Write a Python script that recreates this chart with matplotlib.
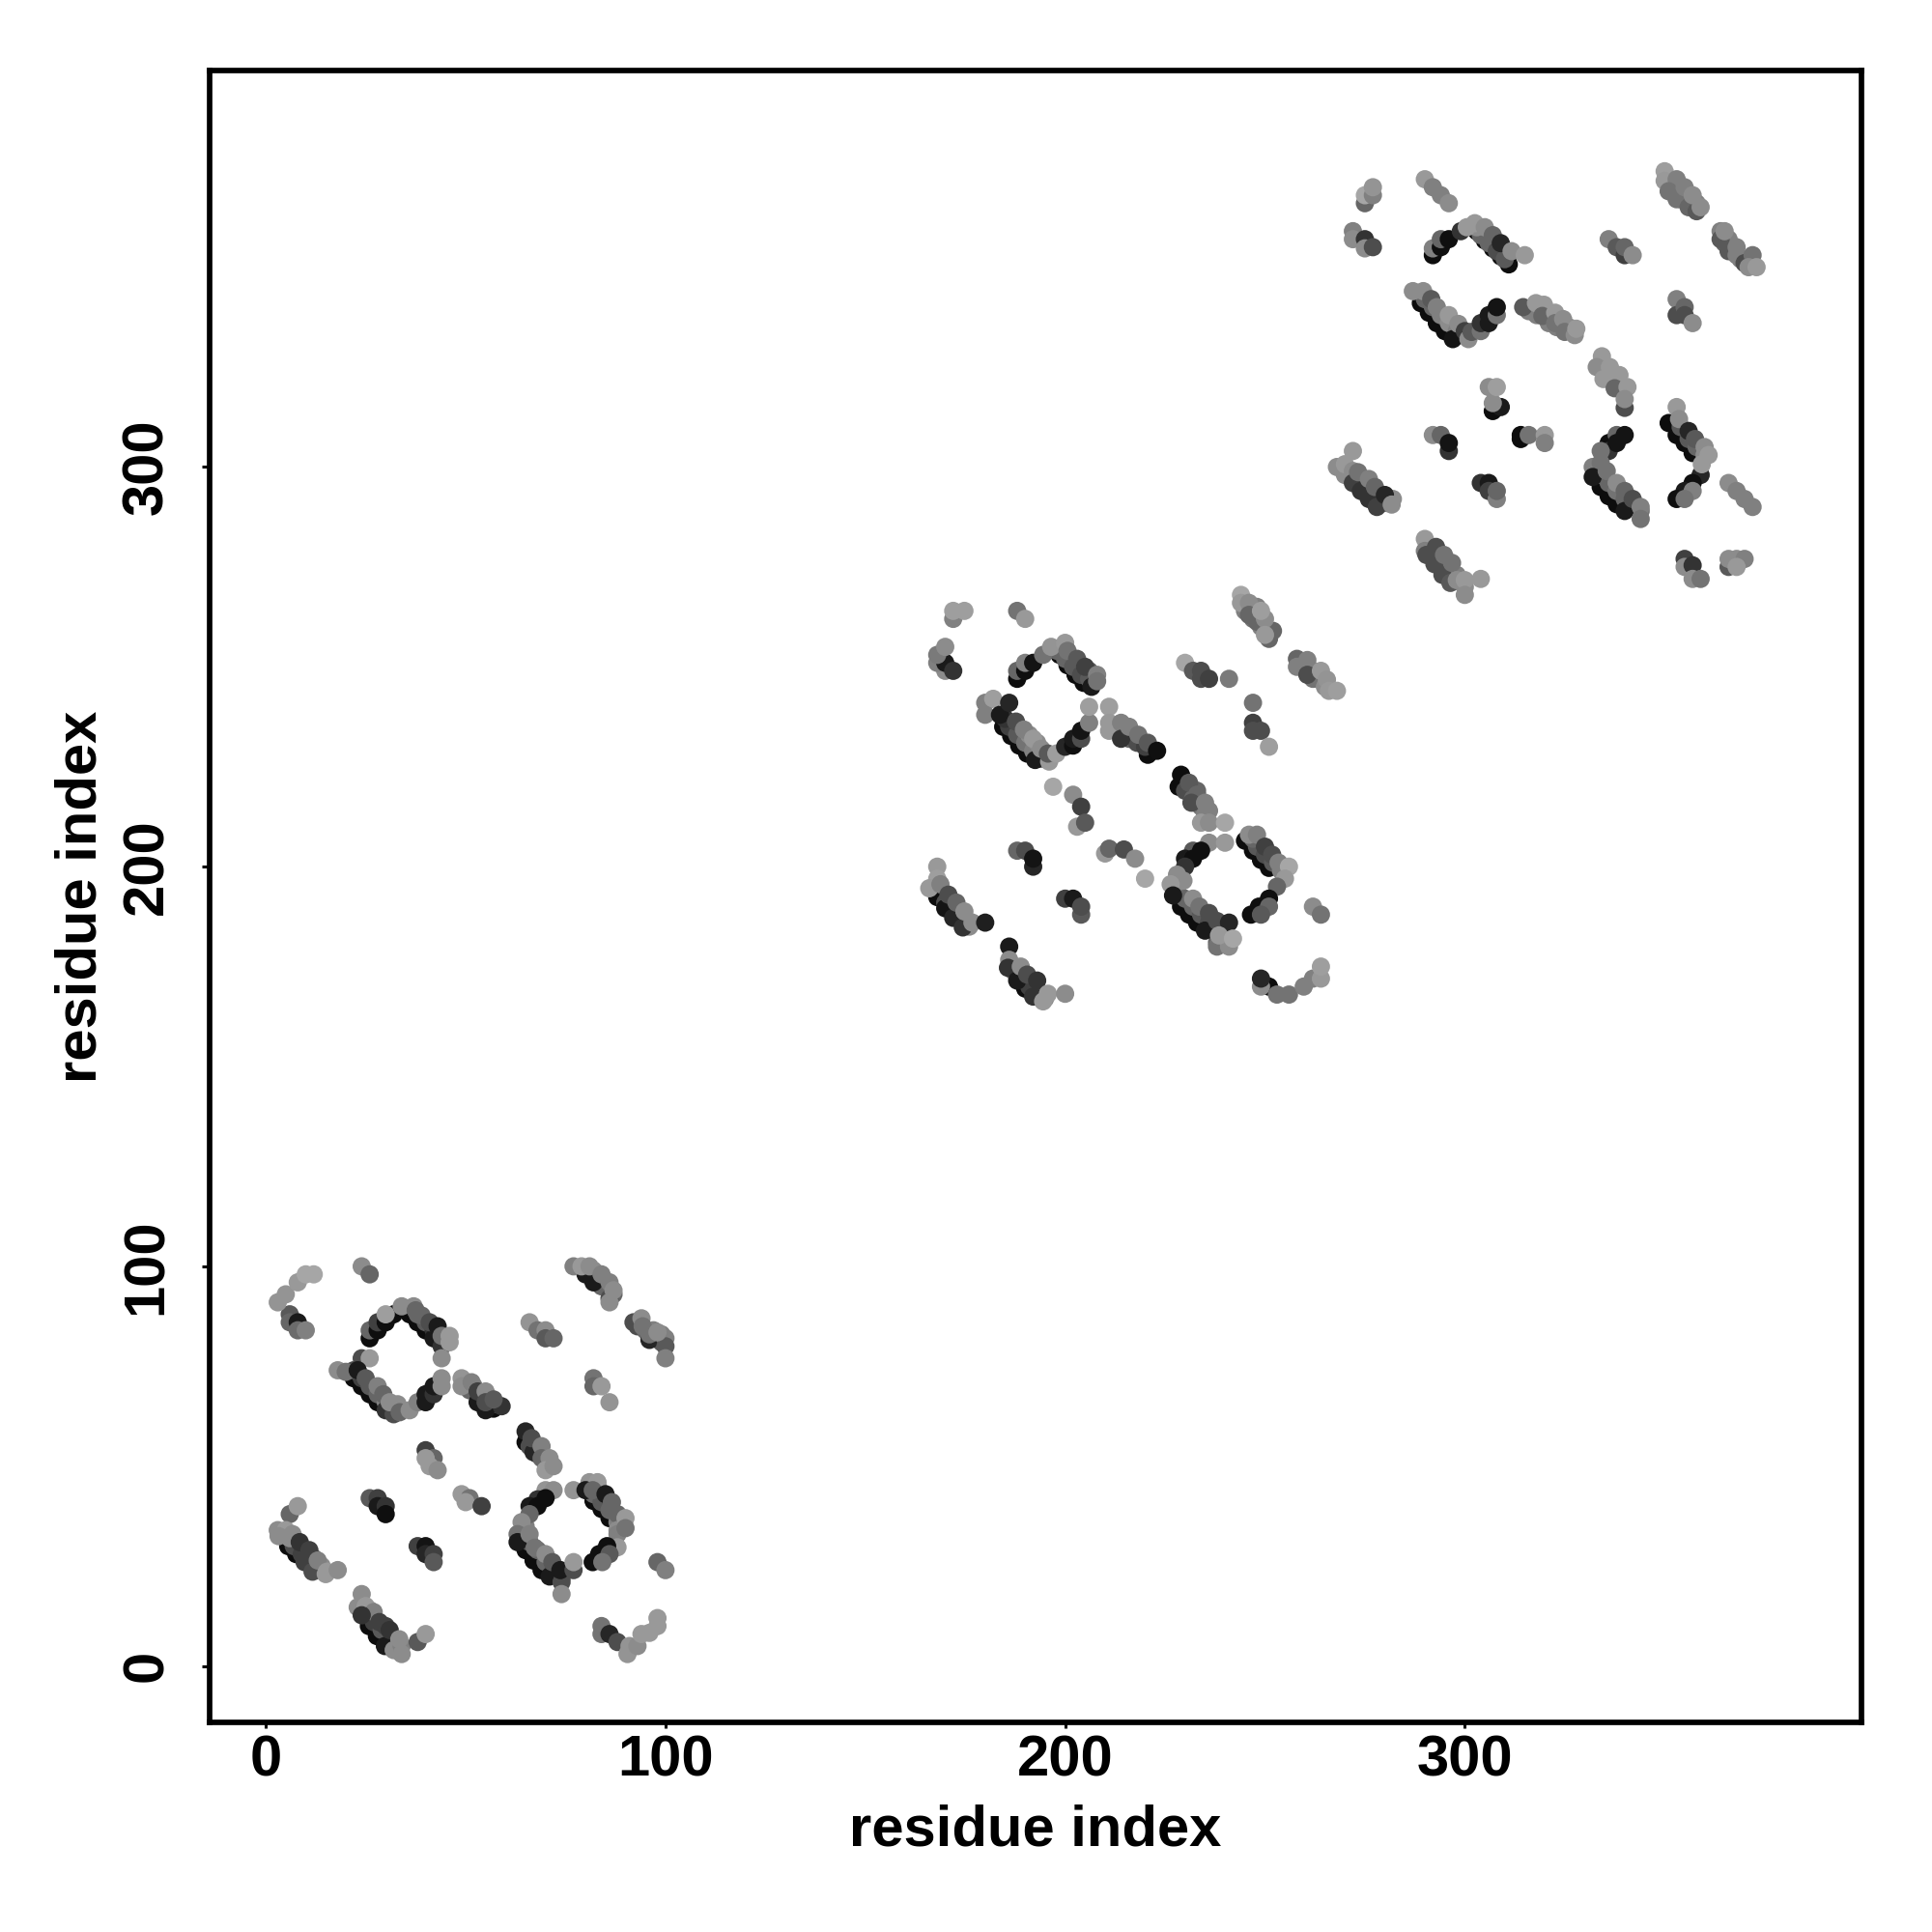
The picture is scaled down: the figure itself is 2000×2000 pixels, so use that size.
import matplotlib
matplotlib.use('Agg')
import matplotlib.pyplot as plt
import numpy as np

# contact points, one block per domain pair
x1 = [6,6,8,8,10, 3,5,8,10,12,
      24,26,
      26,26,28,28,30,30,
      32,36,38,40,42,44, 34,37,37.5,39,41,43,44,46,46,44,
      18,20,24,22,24,26,28,30,32, 26,23,25,28,29.4,31,33,33.5,36,
      38,40,40,42,42,44,44,
      53,55,57,59, 49,49,51.5,53,55,55,57,
      66,68,70,70,72,
      80,82,86,86, 77,79,81,84,86,87,
      96,92,94,94.3,96,100,100,98,100,
      82,82,84,86,
      40,42,41,40,43,
      65,65,67,66.5,69,69,71,70,72,
      49,51,50,54,
      26,28,28,30,30,
      38,40,40,42,42,
      6,3,5,3.2,6.7,8,5.6,7.6,9.7,11.7,8.5,10.9,13,15,15.3,18,
      24,23,25,27,24,25.8,27.8,29.8,28.4,31,32,34,33.4,34,38,40,
      70,72,68,66,68,70,66,64,63,63,65,67,69,71,66,67.3,70,71.7,74,74,73.7,77,77,
      77,81,83,80,82,84,86,81.8,85,86.6,88,88,88,90,90,
      88,85.4,83.4,86,81.8,84.2,
      98,100,
      84,84,86,88,90.5,91,93,94,96,98,98]
y1 = [88,86,86,84,84, 91,93,96,98,98,
      100,98,
      82,84,84,86,86,88,
      88,88,86,84,82,80, 90,90,89,87.7,86,85,82.6,82.6,81,77,
      74,73.6,77,72,70,68,66,64,63, 77,74,72,70,68,66,65.5,63.5,64,
      66,66,68,68,70,70,72,
      66,64,64.4,65, 72,70,71,68.7,68.7,66,66.7,
      86,84,84,82,82,
      98,96,92,91, 100,100,100,98,96,94,
      81.6,86,87,85,83,82,80,83.5,77,
      72,70,70,66,
      54,52,50,52,49,
      58.7,56,53.5,57,55,52,52,49,50,
      43,42,41,40,
      42,42,40,40,38,
      30,30,28,28,26,
      38,34,34,32.5,33,40,30,28,26,23.6,31,29,26.4,23,23.6,24,
      18,14.7,15,13.5,12.7,10,7.5,5,11,9,4,5,6.7,3,6,8,
      44,44,41.7,40,40,42,38,36,33,31,29,26.4,24,22.4,33,29.6,28,26,21,18,24,24,26,
      44,46,46,44,41.3,39.3,37,44,43,41,38,34,33,37,34.5,
      29.7,30,28,28,26,26,
      26,24,
      10,8,8,6,3,5,5,8,8.3,12,10]
g1 = [.35,.4,.1,.42,.5, .58,.58,.6,.65,.65,
      .55,.4,
      .05,.4,.06,.25,.06,.62,
      .05,.05,.05,.05,.1,.2, .55,.55,.4,.4,.3,.1,.45,.6,.6,.55,
      .55,.45,.3,.05,.05,.05,.05,.2,.3, .6,.1,.35,.5,.4,.55,.55,.4,.55,
      .5,.1,.1,.2,.1,.55,.55,
      .1,.1,.05,.2, .58,.55,.5,.25,.55,.3,.35,
      .58,.45,.55,.35,.4,
      .1,.1,.3,.55, .5,.6,.55,.5,.5,.55,
      .15,.3,.55,.45,.45,.5,.35,.55,.5,
      .45,.4,.6,.58,
      .25,.4,.6,.6,.55,
      .15,.05,.15,.3,.5,.4,.55,.6,.55,
      .6,.45,.6,.25,
      .35,.25,.1,.2,.06,
      .25,.08,.15,.25,.35,
      .4,.55,.6,.55,.55,.6,.05,.05,.25,.3,.2,.25,.5,.6,.6,.55,
      .55,.55,.6,.5,.2,.05,.05,.1,.25,.2,.55,.5,.55,.55,.35,.6,
      .58,.55,.2,.1,.06,.06,.4,.55,.45,.1,.05,.05,.05,.1,.5,.45,.55,.35,.3,.55,.1,.3,.6,
      .58,.58,.6,.1,.05,.05,.05,.4,.1,.4,.4,.55,.5,.6,.45,
      .6,.06,.06,.35,.06,.45,
      .4,.5,
      .45,.45,.15,.3,.58,.58,.55,.6,.6,.6,.6]
# second row of the thick strips, sits between the dark edge and the light top
x1b = [38,40,42,44,
       24,26,28,30,32,22,34,
       51,53,55,57,52,50,
       81,83,85,87,82,84,
       93,95,97,99,97,99,
       66,68,69,70,
       7,9,11,13,12,14,6,
       25,27,29,31,33,30,26,
       64,66,68,70,72,74,65,
       82,84,86,88,89,83]
y1b = [88,86,84,82,
       72,70,68,66,64,74,64,
       69,68,66,65.5,70,71,
       99,97,95,93,99,95,
       85,84,82,81,84,83,
       55,53,53,51,
       30,28,26,24,27,25,32,
       13,11,9,7,5,10,14,
       33,31,29,26,24,22,35,
       43,41,39,36,36,45]
g1b = [.4,.35,.2,.3,
       .25,.35,.4,.5,.4,.3,.5,
       .4,.4,.2,.25,.45,.55,
       .4,.45,.5,.4,.55,.4,
       .3,.4,.3,.35,.5,.5,
       .3,.35,.5,.5,
       .3,.25,.35,.5,.4,.55,.55,
       .4,.25,.35,.35,.55,.25,.55,
       .4,.35,.4,.4,.3,.3,.5,
       .4,.35,.4,.5,.55,.5]

x2 = [170,168,170,172,168,170,172,172,174.8,
      188,190,
      188,188,190,190,192,194.5,196.5,200,
      198.6,200.6,202.6,204.6,206.6, 200.6,203,205,208,208,
      180,182,180,183.7,186,184.5,186.5,188.5,190.5,192.5, 187.7,189.7,192,194,196,195.7,197.8,
      200,202,202,204,204,206,206,
      211,211,211,214,214,216,218.3,220.7,220.7,223,
      230,232,234,234,236,241,
      244,244,246,246,248,252,250,250,249,
      258,258,260.6,260.6,264,265.5,266,268,
      247,247,247,249,251,
      197,202,204,203,205,
      229,228.4,231,233,231.6,235,236,234,236,240,
      210,211,214.7,217.5,220,
      188,190,192,192,
      200,202,204,204,
      168,168,166,168.8,168,170,172,174.4,170.8,172.8,174.8,176.8,180,
      186,186,185.7,188,190,192,188.9,190.5,193,194.5,195.7,200,
      236,240,232,234,230,232,230,228,229.6,226.4,227,229,231,233,235,232,233.6,236,238,241,238,241,238.5,242,
      246,248,245,247,249,251,250,251.8,253.4,256,255,253,
      251,248.5,251,246.5,249,
      262,264,
      249,249,251,253,256,259.7,262,264,264]
y2 = [249,251,251,249,253,255,262,264,264,
      264,262,
      247,249,249,251,251,253,255,256,
      253,250.4,248,246,245, 254,252,250,248,246.4,
      241,242,238,238,241,235,232.7,230.3,228.3,226.7, 236.3,234.3,232,229.5,226.3,228.3,228.3,
      230,230.3,232,232,234,236,240,
      240,236,234,236,232,235,233,231,228,229,
      251,249,249,247,247,247,
      268,266,266,263,261.3,259,262,258,264,
      252,250,251.7,248,249,246.8,244,244,
      241,236,234,234,230,
      220,218,215,210,211,
      223,220,221,218,216,216,214,211,211,211,
      203.3,204.5,204.3,202,197,
      204,204,200,202,
      192,192,188,190,
      200,197,194.6,195.6,192.4,189.6,187.2,184.8,193,191,188.8,186,186,
      180,176.7,174.7,171.5,169.5,167.5,175,173,171.5,166.3,168.2,168.2,
      206,206,204,204,202,202,200,198,196.5,195.6,192.8,190,188,186,184,192,190,188.4,186.4,186,180,180,182.8,182,
      208,208,206.5,204,201.7,199.7,205,203,201,200,197,195,
      192,190,190,188,188,
      190,188,
      170,172,170,168,168,170,172,172,175]
g2 = [.55,.5,.1,.2,.48,.55,.5,.62,.62,
      .45,.6,
      .05,.4,.06,.5,.08,.45,.58,.6,
      .05,.05,.05,.05,.1, .45,.35,.25,.5,.45,
      .5,.62,.5,.1,.15,.05,.05,.05,.05,.1, .3,.5,.6,.55,.6,.35,.62,
      .15,.06,.1,.3,.08,.5,.62,
      .62,.6,.6,.5,.2,.5,.45,.35,.05,.06,
      .65,.35,.3,.3,.25,.48,
      .65,.6,.55,.4,.4,.4,.55,.6,.62,
      .4,.5,.5,.3,.6,.58,.6,.62,
      .45,.25,.3,.3,.62,
      .65,.55,.25,.6,.35,
      .05,.05,.35,.4,.3,.5,.5,.6,.55,.65,
      .6,.4,.3,.55,.65,
      .4,.3,.15,.08,
      .25,.1,.35,.3,
      .6,.62,.6,.5,.05,.08,.15,.2,.3,.4,.55,.55,.12,
      .1,.55,.2,.1,.05,.2,.55,.3,.2,.6,.6,.55,
      .55,.6,.35,.06,.1,.06,.2,.55,.55,.6,.1,.05,.05,.05,.1,.55,.45,.3,.3,.15,.45,.55,.6,.65,
      .55,.5,.05,.05,.05,.05,.25,.3,.5,.65,.6,.4,
      .06,.06,.4,.06,.35,
      .55,.45,
      .55,.15,.05,.45,.45,.5,.5,.6,.62]
x2b = [200,202,204,206,206,198,
       186,188,190,192,194,185,191,193,
       214,216,218,220,212,
       245,247,249,251,248,
       259,262,263,262,265,
       230,232,234,235,233,
       170,172,174,176,
       187,189,191,193,195,
       228,230,232,234,236,238,238,
       248,250,252,254,247]
y2b = [252,250,248,247,249,254,
       235,233,231,229,227,237,233,231,
       234,232,231,230,235,
       264,262,260,257,265,
       250,249,247,247,245,
       219,217,215,213,219,
       191,189,187,185,
       174,172,170,168,167,
       194,192,190,188,186,184,181,
       205,203,201,199,207]
g2b = [.4,.35,.3,.35,.35,.4,
       .25,.35,.45,.5,.4,.2,.55,.55,
       .3,.4,.3,.25,.5,
       .5,.45,.5,.4,.5,
       .45,.5,.55,.45,.55,
       .3,.4,.45,.5,.4,
       .3,.35,.5,.55,
       .4,.3,.25,.35,.55,
       .5,.4,.4,.35,.3,.3,.4,
       .35,.3,.35,.5,.4]

x3 = [275,275,277,277,
      272,272,275,275,277,
      290,292,294,296,
      292,292,294,294,296,299,300.5,302.5,
      303,305,307,309,311, 305,307,309,311.7,315,
      287,289.6,289,291,293,295,297, 291.6,293,296,298.4,300,300.9,
      301.7,304,304,306,306,308,308,
      314.6,317.8,319.8,319.4,322.6,322.6,324.6,325,327.5,327.9,
      340,334.3,333,336.3,334.7,338.7,337.5,340.7,340,
      307,309,307,306,308,
      314,314,316,320,320,
      292,294,296,296,
      304,306,306,308,308,
      272,268,270,272,272,274,276,278,273.3,276,277.5,280,281.7,
      290,290,290.4,292.4,294.4,296.4,292.8,294.8,296.8,298,300,300,304,
      350,350,353,351,353,355,356,358,357,359,
      336,338,340,340,342,
      364,364,366,365,368,368,370,372,371,373,
      353,353,355,355,357,
      336,336,338,340,338,334,332,334,332,334,336,338,340,335.5,338,340,342,344,344,
      351,353,353.6,353,355,357,356,357.6,360,359,361,359.3,
      357,355,357,353,355,
      366,368,370,372,
      355,355,357,357,359,
      366,366,368,370,368]
y3 = [366,368,368,370,
      359,357,357,354.7,355,
      372,370,368,366,
      353,354.7,355,357,357,359,360,361,
      359,356.7,354.7,352.7,350.7, 360,358,356,354,353,
      344,344,341,338.6,336,334,332, 342,340,338,335.8,334,332,
      333.8,334,336,336,338,338,340,
      340,341,340.6,337.8,338.6,336,337,333.8,333,334.6,
      314.8,327.7,325,325,322,323,319.7,320,317,
      314,315,316,320,320,
      308,307,308,308,306,
      308,308,304,306,
      296,296,294,292,294,
      304,300,300.7,299,296,294,292,290,298.7,297,295,293,290.6,
      282,279,278,275.7,273,271,280,278,276,271.7,271.7,268,272,
      374,371.6,372,369,367,370,365,364,368,365,
      357,355,353,355,353,
      359,357,354,359,353,355,351,353,350,350,
      342,338,340,338,336,
      306,304,308,308,306,304,300,301,297.5,295,292.7,290.7,289,299,296,294,292,290,287,
      311,315,312,308,306,303.5,309,307,305,298,303,300.7,
      296,294,294,292,292,
      296,294,292,290,
      277,275,275.4,272,272,
      275,277,277,277,275]
g3 = [.4,.65,.5,.58,
      .5,.55,.2,.55,.3,
      .6,.5,.5,.55,
      .05,.5,.06,.4,.06,.2,.6,.6,
      .05,.05,.05,.05,.05, .55,.4,.15,.55,.6,
      .55,.55,.05,.05,.05,.05,.08, .35,.5,.6,.55,.25,.55,
      .35,.45,.2,.1,.1,.45,.08,
      .35,.6,.6,.4,.6,.45,.55,.45,.55,.6,
      .3,.6,.55,.6,.6,.6,.4,.6,.55,
      .05,.1,.55,.55,.62,
      .05,.05,.45,.6,.5,
      .55,.4,.2,.08,
      .2,.1,.25,.5,.4,
      .6,.55,.6,.55,.25,.2,.2,.25,.45,.5,.4,.15,.55,
      .6,.5,.3,.3,.3,.35,.3,.45,.45,.55,.6,.55,.6,
      .62,.6,.5,.45,.45,.5,.4,.35,.55,.55,
      .5,.35,.25,.4,.55,
      .5,.35,.35,.55,.5,.5,.3,.45,.55,.6,
      .5,.3,.4,.3,.55,
      .06,.2,.4,.08,.08,.45,.5,.45,.1,.05,.05,.05,.1,.45,.55,.4,.3,.5,.45,
      .05,.6,.55,.05,.05,.05,.15,.35,.55,.15,.6,.6,
      .06,.1,.5,.06,.45,
      .55,.5,.5,.5,
      .25,.55,.2,.55,.45,
      .35,.55,.55,.5,.6]
x3b = [304,306,308,310,303,
       290,292,294,296,298,299,
       316,318,321,323,326,
       335,337,339,
       274,276,278,280,282,270,
       292,294,296,298,300,
       352,354,356,358,351,
       365,367,369,371,366,
       334,336,338,340,342,344,
       354,356,358,360]
y3b = [358,356,354,352,360,
       342,340,338,336,334,333,
       339,338,336,335,335,
       325,322,320,
       297,295,293,291,292,298,
       278,276,274,273,270,
       369,367,367,366,372,
       356,354,352,352,357,
       298,296,294,292,290,289,
       310,307,305,303]
g3b = [.4,.4,.3,.35,.55,
       .4,.4,.5,.55,.5,.4,
       .5,.5,.5,.5,.55,
       .55,.55,.55,
       .45,.4,.35,.45,.55,.55,
       .4,.4,.45,.5,.55,
       .45,.45,.5,.5,.5,
       .4,.45,.5,.5,.5,
       .4,.4,.45,.4,.4,.45,
       .35,.35,.4,.55]

tick_vals = [0, 100, 200, 300]
axis_name = 'residue index'
dark_edge = 0.05

plt.rcParams['font.family'] = ['Liberation Sans', 'DejaVu Sans']
plt.rcParams['font.weight'] = 'bold'

fig = plt.figure(figsize=(20, 20), dpi=100)
ax = fig.add_axes([216.8 / 2000, 1 - 1783 / 2000, 1710 / 2000, 1710 / 2000])


def dots(xs, ys, gs, keep):
    xs, ys, gs = np.array(xs), np.array(ys), np.array(gs)
    m = keep(gs)
    cols = [(g, g, g) for g in gs[m]]
    ax.scatter(xs[m], ys[m], s=185, c=cols, linewidths=0, zorder=3)


# dark edge goes under the second row, everything else stays on top
for xs, ys, gs, xb, yb, gb in [(x1, y1, g1, x1b, y1b, g1b),
                               (x2, y2, g2, x2b, y2b, g2b),
                               (x3, y3, g3, x3b, y3b, g3b)]:
    dots(xs, ys, gs, lambda g: g <= dark_edge)
    dots(xb, yb, gb, lambda g: g >= 0)
    dots(xs, ys, gs, lambda g: g > dark_edge)

ax.set_xlim(-14.1, 399.2)
ax.set_ylim(-14.1, 399.2)
ax.set_xticks(tick_vals)
ax.set_yticks(tick_vals)
for sp in ax.spines.values():
    sp.set_linewidth(4.1)
ax.tick_params(axis='x', length=4.5, width=2.2, labelsize=43, pad=4.5)
ax.tick_params(axis='y', length=5.5, width=2.2, labelsize=43, pad=21)
for lab in ax.get_yticklabels():
    lab.set_rotation(90)
    lab.set_va('center')
ax.set_xlabel(axis_name, fontsize=43, fontweight='bold', labelpad=12)
ax.set_ylabel(axis_name, fontsize=43, fontweight='bold', labelpad=10)

fig.savefig('out.png', dpi=100, facecolor='white')
